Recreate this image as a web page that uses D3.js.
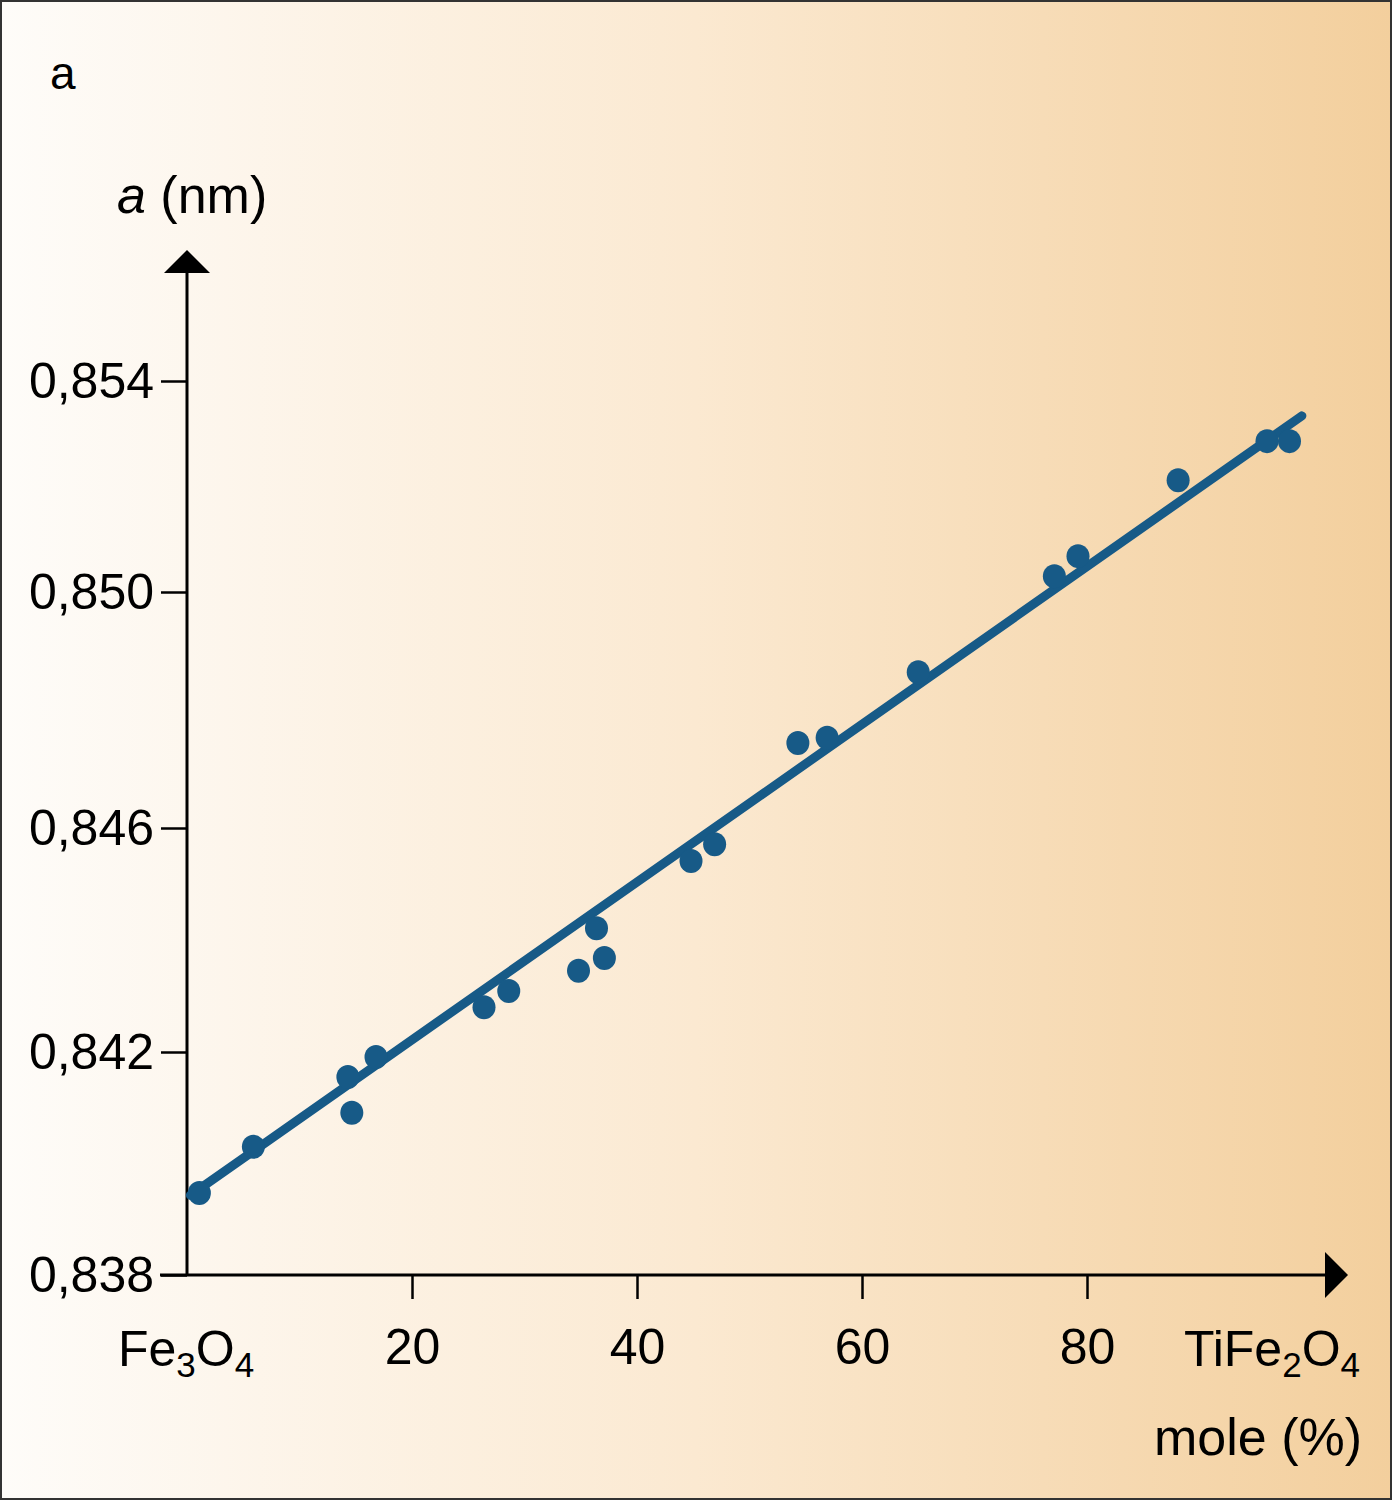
<!DOCTYPE html>
<html><head><meta charset="utf-8">
<script src="https://cdn.jsdelivr.net/npm/d3@7"></script>
<style>html,body{margin:0;padding:0;background:#fff}</style>
</head><body>
<script>
// ---- data ----
const molePct = [1.1, 5.9, 14.3, 14.65, 16.8, 26.4, 28.6, 34.8, 36.4, 37.1, 44.8, 46.9, 54.3, 56.9, 65.0, 77.1, 79.2, 88.1, 96.0, 98.0];
const latticeA = [0.83947, 0.84030, 0.84155, 0.84091, 0.84191, 0.84280, 0.84309, 0.84345, 0.84421, 0.84368, 0.84541, 0.84571, 0.84744, 0.84753, 0.84864, 0.85030, 0.85068, 0.85212, 0.85286, 0.85286];
const fitX = [0.3, 99.1];
const fitY = [0.83943, 0.85334];
const yTicks = [0.838, 0.842, 0.846, 0.850, 0.854];
const xTicks = [20, 40, 60, 80];

const W = 1392, H = 1500;
const svg = d3.select("body").append("svg").attr("width", W).attr("height", H)
  .style("font-family", "'Liberation Sans', Arial, sans-serif");

const defs = svg.append("defs");
const grad = defs.append("linearGradient").attr("id", "bg").attr("x1", "0").attr("x2", "1").attr("y1", "0").attr("y2", "0");
grad.append("stop").attr("offset", "0").attr("stop-color", "#fefcf9");
grad.append("stop").attr("offset", "0.5").attr("stop-color", "#fbe9d1");
grad.append("stop").attr("offset", "1").attr("stop-color", "#f3cf9d");
svg.append("rect").attr("x", 1).attr("y", 1).attr("width", W - 2).attr("height", H - 2)
  .attr("fill", "url(#bg)").attr("stroke", "#333").attr("stroke-width", 2);

// scales
const x = d3.scaleLinear().domain([0, 100]).range([187, 1312]);
const y = d3.scaleLinear().domain(yTicks).range([1275, 1052, 828, 592, 381]);

const x0 = x(0), y0 = y(0.838);

// axes lines
svg.append("line").attr("x1", x0).attr("x2", x0).attr("y1", y0).attr("y2", 272)
  .attr("stroke", "#000").attr("stroke-width", 3);
svg.append("path").attr("d", `M${x0 - 23},273 L${x0},250 L${x0 + 23},273 Z`).attr("fill", "#000");
svg.append("line").attr("x1", 160).attr("x2", 1327).attr("y1", y0).attr("y2", y0)
  .attr("stroke", "#000").attr("stroke-width", 3);
svg.append("path").attr("d", `M1325,${y0 - 23} L1348,${y0} L1325,${y0 + 23} Z`).attr("fill", "#000");

// y axis ticks
const yAxis = d3.axisLeft(y).tickValues(yTicks).tickSize(26).tickPadding(7)
  .tickFormat(d => d.toFixed(3).replace(".", ","));
const gy = svg.append("g").attr("transform", `translate(${x0},0)`).call(yAxis);
gy.select(".domain").remove();
gy.selectAll(".tick line").attr("stroke", "#000").attr("stroke-width", 2.5);
gy.selectAll(".tick text").attr("font-size", 50).attr("fill", "#000")
  .attr("font-family", "'Liberation Sans', Arial, sans-serif");

// x axis ticks
const xAxis = d3.axisBottom(x).tickValues(xTicks).tickSize(24).tickPadding(29).tickFormat(d3.format("d"));
const gx = svg.append("g").attr("transform", `translate(0,${y0})`).call(xAxis);
gx.select(".domain").remove();
gx.selectAll(".tick line").attr("stroke", "#000").attr("stroke-width", 2.5);
gx.selectAll(".tick text").attr("font-size", 50).attr("fill", "#000")
  .attr("font-family", "'Liberation Sans', Arial, sans-serif");

// end labels with subscripts
function chem(parts, xpos, anchor) {
  const t = svg.append("text").attr("x", xpos).attr("y", 1366).attr("font-size", 50)
    .attr("text-anchor", anchor).attr("fill", "#000");
  parts.forEach(p => {
    const ts = t.append("tspan").text(p[0]);
    if (p[1]) ts.attr("font-size", 35).attr("dy", 11);
    else if (p[2]) ts.attr("dy", -11);
  });
  return t;
}
chem([["Fe"], ["3", true], ["O", false, true], ["4", true]], 118, "start");
chem([["TiFe"], ["2", true], ["O", false, true], ["4", true]], 1360, "end");

svg.append("text").attr("x", 1362).attr("y", 1455).attr("text-anchor", "end")
  .attr("font-size", 52).attr("fill", "#000").text("mole (%)");

const yt = svg.append("text").attr("x", 117).attr("y", 213).attr("font-size", 52).attr("fill", "#000");
yt.append("tspan").attr("font-style", "italic").text("a");
yt.append("tspan").text(" (nm)");

svg.append("text").attr("x", 50).attr("y", 89).attr("font-size", 46).attr("fill", "#000").text("a");

// fit line
const line = d3.line().x(d => x(d[0])).y(d => y(d[1]));
svg.append("path").datum(fitX.map((v, i) => [v, fitY[i]])).attr("d", line)
  .attr("fill", "none").attr("stroke", "#175a87").attr("stroke-width", 9).attr("stroke-linecap", "round");

// points
svg.append("g").selectAll("ellipse").data(molePct.map((v, i) => [v, latticeA[i]])).join("ellipse")
  .attr("cx", d => x(d[0])).attr("cy", d => y(d[1])).attr("rx", 11.5).attr("ry", 12)
  .attr("fill", "#175a87");
</script>
</body></html>
